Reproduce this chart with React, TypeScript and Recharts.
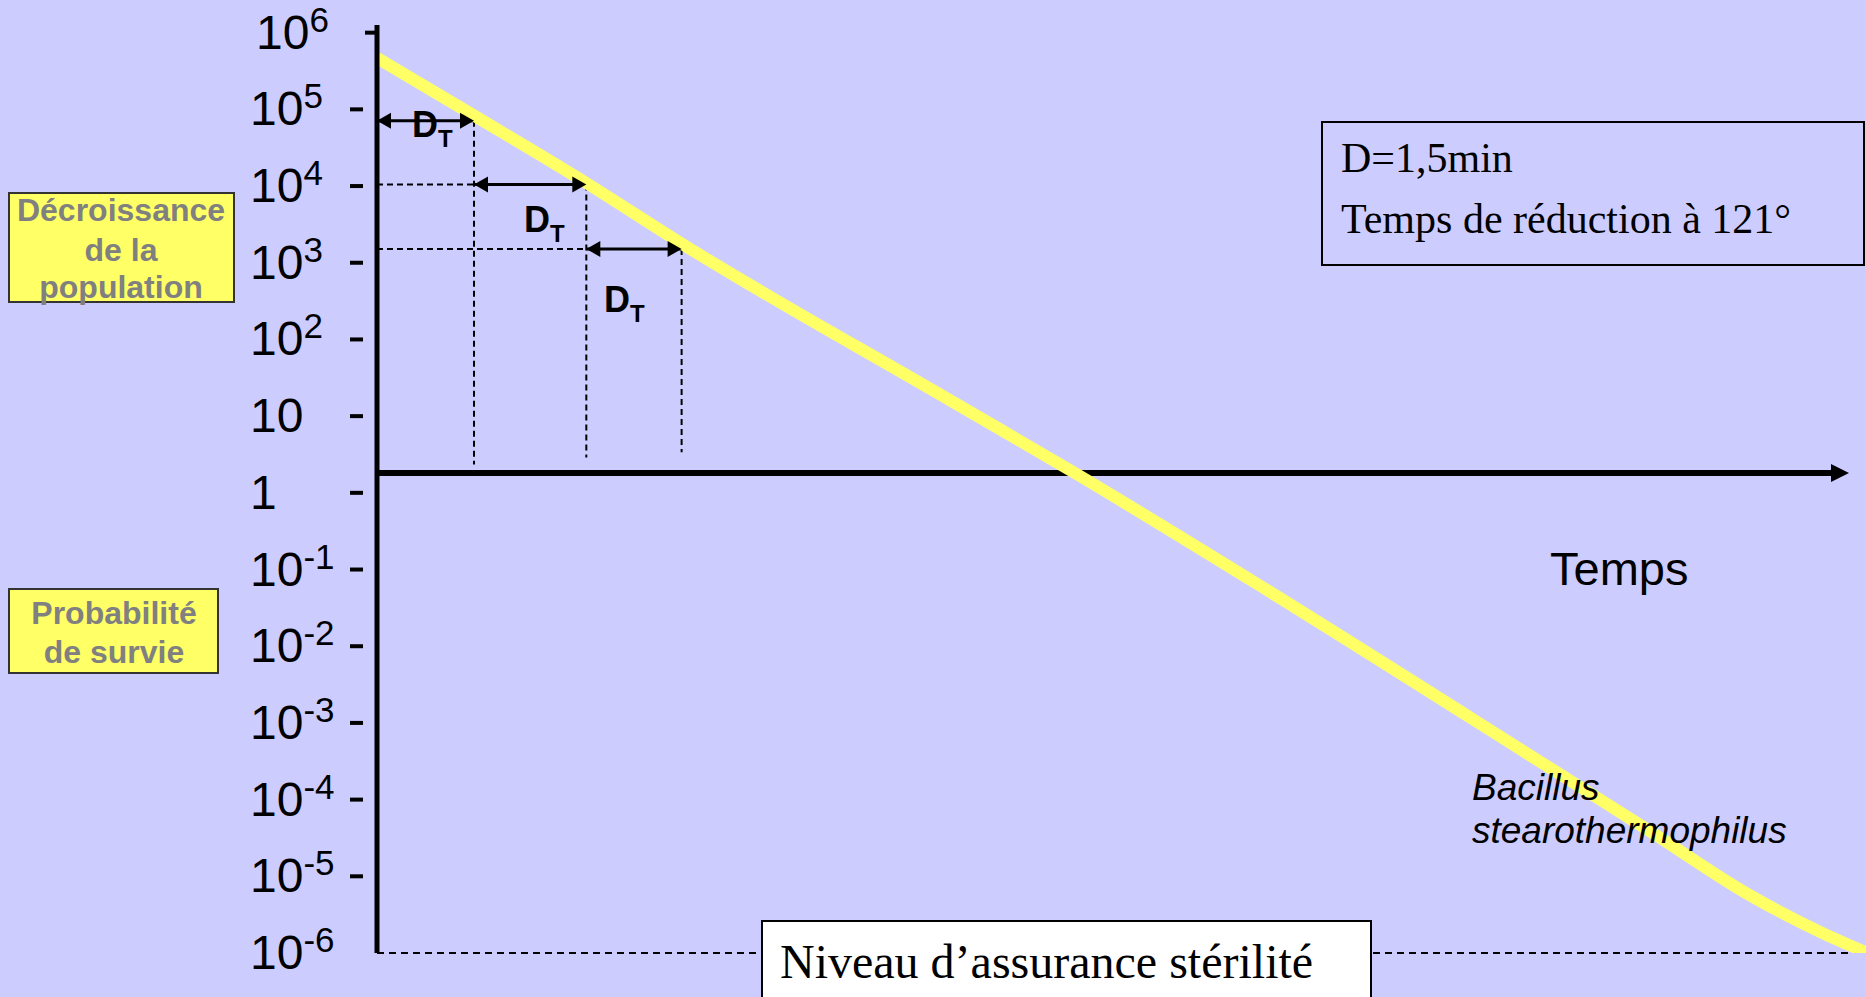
import React from "react";
import { LineChart, Line, XAxis, YAxis, ReferenceLine, ReferenceDot } from "recharts";

// courbe de survie : temps (min) / log10 de la population
const curveTime = [0, 1.14, 2.46, 3.58, 6.73, 8.2, 10.26, 13.79, 14.96, 16.14, 16.99, 17.5];
const curveLog = [5.67, 4.92, 4.04, 3.25, 1.21, 0.26, -1.13, -3.59, -4.41, -5.25, -5.74, -5.99];

// axe Y (exposants)
const yTicks = [6, 5, 4, 3, 2, 1, 0, -1, -2, -3, -4, -5, -6];
const yTickBase = ["10", "10", "10", "10", "10", "10", "1", "10", "10", "10", "10", "10", "10"];
const yTickExp = ["6", "5", "4", "3", "2", "", "", "-1", "-2", "-3", "-4", "-5", "-6"];

// les trois D_T
const dtStart = [0, 1.14, 2.46];
const dtEnd = [1.14, 2.46, 3.58];
const dtLevel = [4.85, 4.02, 3.18];
const dropBottom = [0.37, 0.46, 0.53];

const timeMax = 17.5;
const axisLevel = 0.26;
const axisEnd = 17.3;
const salLevel = -6;
const salEnd = 17.33;

const curveData = curveTime.map((t, i) => ({ t, logN: curveLog[i] }));

const SANS = "'Liberation Sans', Arial, sans-serif";
const SERIF = "'Liberation Serif', 'Times New Roman', serif";

const renderTick = (props: any) => {
    const { y, payload } = props;
    const i = yTicks.indexOf(payload.value);
    const v = payload.value;
    return (
        <g>
            <text x={v === 6 ? 256 : 250} y={y + 16} fontSize={48} fontFamily={SANS} fill="#000">
                {yTickBase[i]}
                {yTickExp[i] && (
                    <tspan dy={-17} fontSize={35}>
                        {yTickExp[i]}
                    </tspan>
                )}
            </text>
            {v !== -6 && (
                <line
                    x1={v === 6 ? 365 : 350}
                    x2={v === 6 ? 377 : 363}
                    y1={y}
                    y2={y}
                    stroke="#000"
                    strokeWidth={4}
                />
            )}
        </g>
    );
};

const arrowHead = (dir: number, len: number, half: number) => (p: any) => {
    const { cx, cy } = p;
    const bx = cx - dir * len;
    return <polygon points={`${cx},${cy} ${bx},${cy - half} ${bx},${cy + half}`} fill="#000" />;
};

const App = () => {
    return (
        <div
            style={{
                position: "absolute",
                left: 0,
                top: 0,
                width: 1866,
                height: 997,
                background: "#CCCCFF",
                overflow: "hidden",
            }}
        >
            <LineChart
                width={1866}
                height={997}
                data={curveData}
                margin={{ top: 25, right: 0, bottom: 44, left: 0 }}
            >
                <XAxis dataKey="t" type="number" domain={[0, timeMax]} hide allowDataOverflow />
                <YAxis
                    type="number"
                    domain={[-6, 6.1]}
                    ticks={yTicks}
                    interval={0}
                    width={377}
                    allowDataOverflow
                    axisLine={{ stroke: "#000", strokeWidth: 5 }}
                    tickLine={false}
                    tick={renderTick}
                />

                {/* pointillés */}
                {dtEnd.map((t, i) => (
                    <ReferenceLine
                        key={"v" + i}
                        segment={[{ x: t, y: dtLevel[i] }, { x: t, y: dropBottom[i] }]}
                        stroke="#000"
                        strokeWidth={2}
                        strokeDasharray="6 4"
                    />
                ))}
                {dtStart.slice(1).map((t, i) => (
                    <ReferenceLine
                        key={"h" + i}
                        segment={[{ x: 0, y: dtLevel[i + 1] }, { x: t, y: dtLevel[i + 1] }]}
                        stroke="#000"
                        strokeWidth={2}
                        strokeDasharray="6 4"
                    />
                ))}
                <ReferenceLine
                    segment={[{ x: 0, y: salLevel }, { x: salEnd, y: salLevel }]}
                    stroke="#000"
                    strokeWidth={2}
                    strokeDasharray="7 5"
                />

                {/* flèches D_T */}
                {dtStart.map((t, i) => (
                    <ReferenceLine
                        key={"a" + i}
                        segment={[{ x: t, y: dtLevel[i] }, { x: dtEnd[i], y: dtLevel[i] }]}
                        stroke="#000"
                        strokeWidth={3}
                    />
                ))}

                {/* axe du temps */}
                <ReferenceLine
                    segment={[{ x: 0, y: axisLevel }, { x: axisEnd - 0.15, y: axisLevel }]}
                    stroke="#000"
                    strokeWidth={6}
                />

                <Line
                    type="monotone"
                    dataKey="logN"
                    stroke="#FFFF66"
                    strokeWidth={12}
                    dot={false}
                    activeDot={false}
                    isAnimationActive={false}
                />

                {dtStart.map((t, i) => (
                    <ReferenceDot
                        key={"l" + i}
                        x={t}
                        y={dtLevel[i]}
                        r={0}
                        shape={arrowHead(-1, 14, 8)}
                    />
                ))}
                {dtEnd.map((t, i) => (
                    <ReferenceDot
                        key={"r" + i}
                        x={t}
                        y={dtLevel[i]}
                        r={0}
                        shape={arrowHead(1, 14, 8)}
                    />
                ))}
                <ReferenceDot x={axisEnd} y={axisLevel} r={0} shape={arrowHead(1, 18, 9)} />
            </LineChart>

            {/* textes et cadres */}
            <svg
                width={1866}
                height={997}
                style={{ position: "absolute", left: 0, top: 0, pointerEvents: "none" }}
            >
                <rect x={9} y={193} width={225} height={109} fill="#FFFF66" stroke="#333" strokeWidth={2} />
                <g fontFamily={SANS} fontWeight="bold" fontSize={32} fill="#808080" textAnchor="middle">
                    <text x={121} y={221}>Décroissance</text>
                    <text x={121} y={261}>de la</text>
                    <text x={121} y={298}>population</text>
                </g>

                <rect x={9} y={589} width={209} height={84} fill="#FFFF66" stroke="#333" strokeWidth={2} />
                <g fontFamily={SANS} fontWeight="bold" fontSize={32} fill="#808080" textAnchor="middle">
                    <text x={114} y={624}>Probabilité</text>
                    <text x={114} y={663}>de survie</text>
                </g>

                <rect x={1322} y={122} width={542} height={143} fill="none" stroke="#000" strokeWidth={2} />
                <g fontFamily={SERIF} fontSize={42} fill="#000">
                    <text x={1341} y={172}>D=1,5min</text>
                    <text x={1341} y={233}>Temps de réduction à 121°</text>
                </g>

                <rect x={762} y={921} width={609} height={90} fill="#fff" stroke="#000" strokeWidth={2} />
                <text x={780} y={978} fontFamily={SERIF} fontSize={48} fill="#000">
                    Niveau d’assurance stérilité
                </text>

                <text x={1550} y={585} fontFamily={SANS} fontSize={47} fill="#000">
                    Temps
                </text>
                <g fontFamily={SANS} fontStyle="italic" fontSize={37} fill="#000">
                    <text x={1472} y={800}>Bacillus</text>
                    <text x={1472} y={843}>stearothermophilus</text>
                </g>

                <g fontFamily={SANS} fontWeight="bold" fontSize={36} fill="#000">
                    <text x={412} y={137}>
                        D<tspan dy={10} fontSize={24}>T</tspan>
                    </text>
                    <text x={524} y={232}>
                        D<tspan dy={10} fontSize={24}>T</tspan>
                    </text>
                    <text x={604} y={312}>
                        D<tspan dy={10} fontSize={24}>T</tspan>
                    </text>
                </g>
            </svg>
        </div>
    );
};

export default App;
